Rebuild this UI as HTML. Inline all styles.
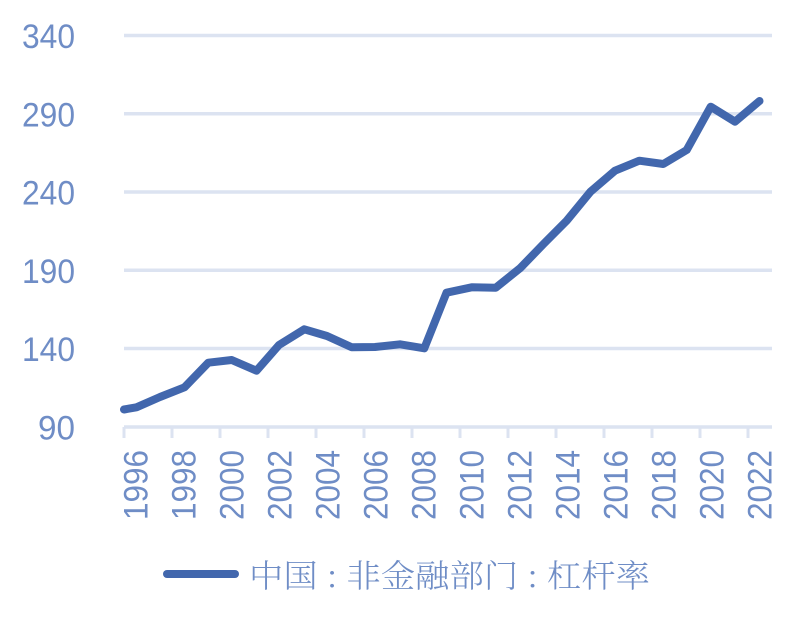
<!DOCTYPE html>
<html>
<head>
<meta charset="utf-8">
<style>
html,body{margin:0;padding:0;background:#fff;}
svg{display:block;}
</style>
</head>
<body>
<svg width="807" height="620" viewBox="0 0 807 620" xmlns="http://www.w3.org/2000/svg">
  <rect width="807" height="620" fill="#ffffff"/>
  <!-- gridlines -->
  <g stroke="#dce3f1" stroke-width="3.5">
    <line x1="124" y1="35.5" x2="772" y2="35.5"/>
    <line x1="124" y1="113.8" x2="772" y2="113.8"/>
    <line x1="124" y1="192" x2="772" y2="192"/>
    <line x1="124" y1="270.3" x2="772" y2="270.3"/>
    <line x1="124" y1="348.5" x2="772" y2="348.5"/>
    <line x1="124" y1="427" x2="772" y2="427"/>
  </g>
  <!-- x ticks -->
  <g stroke="#dce3f1" stroke-width="3">
    <line x1="124" y1="427" x2="124" y2="438"/>
    <line x1="172" y1="427" x2="172" y2="438"/>
    <line x1="220" y1="427" x2="220" y2="438"/>
    <line x1="268" y1="427" x2="268" y2="438"/>
    <line x1="316" y1="427" x2="316" y2="438"/>
    <line x1="364" y1="427" x2="364" y2="438"/>
    <line x1="412" y1="427" x2="412" y2="438"/>
    <line x1="460" y1="427" x2="460" y2="438"/>
    <line x1="508" y1="427" x2="508" y2="438"/>
    <line x1="556" y1="427" x2="556" y2="438"/>
    <line x1="604" y1="427" x2="604" y2="438"/>
    <line x1="652" y1="427" x2="652" y2="438"/>
    <line x1="700" y1="427" x2="700" y2="438"/>
    <line x1="748" y1="427" x2="748" y2="438"/>
  </g>
  <!-- y labels -->
  <g font-family="Liberation Sans, sans-serif" font-size="34" fill="#6f8dc6" text-anchor="end">
    <text x="75" y="48" textLength="53" lengthAdjust="spacingAndGlyphs">340</text>
    <text x="75" y="126.3" textLength="53" lengthAdjust="spacingAndGlyphs">290</text>
    <text x="75" y="204.5" textLength="53" lengthAdjust="spacingAndGlyphs">240</text>
    <text x="75" y="282.8" textLength="53" lengthAdjust="spacingAndGlyphs">190</text>
    <text x="75" y="361" textLength="53" lengthAdjust="spacingAndGlyphs">140</text>
    <text x="75" y="439.5" textLength="37" lengthAdjust="spacingAndGlyphs">90</text>
  </g>
  <!-- x labels (rotated) -->
  <g font-family="Liberation Sans, sans-serif" font-size="34" fill="#6f8dc6" text-anchor="end">
    <text transform="translate(147.5,450) rotate(-90)" textLength="70" lengthAdjust="spacingAndGlyphs">1996</text>
    <text transform="translate(195.5,450) rotate(-90)" textLength="70" lengthAdjust="spacingAndGlyphs">1998</text>
    <text transform="translate(243.5,450) rotate(-90)" textLength="70" lengthAdjust="spacingAndGlyphs">2000</text>
    <text transform="translate(291.5,450) rotate(-90)" textLength="70" lengthAdjust="spacingAndGlyphs">2002</text>
    <text transform="translate(339.5,450) rotate(-90)" textLength="70" lengthAdjust="spacingAndGlyphs">2004</text>
    <text transform="translate(387.5,450) rotate(-90)" textLength="70" lengthAdjust="spacingAndGlyphs">2006</text>
    <text transform="translate(435.5,450) rotate(-90)" textLength="70" lengthAdjust="spacingAndGlyphs">2008</text>
    <text transform="translate(483.5,450) rotate(-90)" textLength="70" lengthAdjust="spacingAndGlyphs">2010</text>
    <text transform="translate(531.5,450) rotate(-90)" textLength="70" lengthAdjust="spacingAndGlyphs">2012</text>
    <text transform="translate(579.5,450) rotate(-90)" textLength="70" lengthAdjust="spacingAndGlyphs">2014</text>
    <text transform="translate(627.5,450) rotate(-90)" textLength="70" lengthAdjust="spacingAndGlyphs">2016</text>
    <text transform="translate(675.5,450) rotate(-90)" textLength="70" lengthAdjust="spacingAndGlyphs">2018</text>
    <text transform="translate(723.5,450) rotate(-90)" textLength="70" lengthAdjust="spacingAndGlyphs">2020</text>
    <text transform="translate(771.5,450) rotate(-90)" textLength="70" lengthAdjust="spacingAndGlyphs">2022</text>
  </g>
  <!-- series -->
  <polyline fill="none" stroke="#4267ad" stroke-width="8" stroke-linejoin="round" stroke-linecap="round"
    points="124,409.5 136.5,407.3 160,397 184.5,387.3 208.3,362.7 231.7,360 256.5,370.7 279,345 304.3,329.3 327,336 351.7,347.3 375,347 400,344.3 424.3,348.3 446.5,292.7 471.7,287.3 495.7,287.7 520,268.3 543.5,244 566.7,220.7 590.5,191.7 615,170.7 639.3,160.7 663.3,164 686.7,150 710.7,106.7 735,121.7 759.5,101"/>
  <!-- legend -->
  <line x1="167" y1="574" x2="235" y2="574" stroke="#4267ad" stroke-width="8" stroke-linecap="round"/>
  <text x="249" y="587" font-family="'Noto Serif CJK SC', 'Liberation Serif', serif" font-weight="300" font-size="32" fill="#6f8dc6" textLength="401" lengthAdjust="spacingAndGlyphs">中国 : 非金融部门 : 杠杆率</text>
</svg>
</body>
</html>
